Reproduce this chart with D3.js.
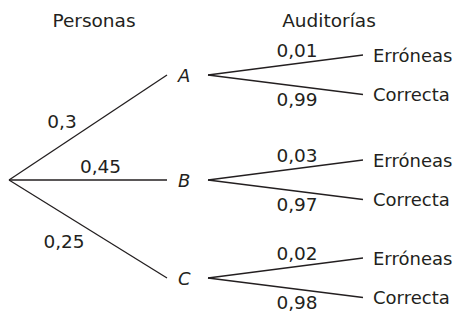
<!DOCTYPE html>
<html>
<head>
<meta charset="utf-8">
<script src="https://cdn.jsdelivr.net/npm/d3@7"></script>
<style>
  html, body { margin: 0; padding: 0; background: #fff; }
  svg { display: block; }
  text { font-family: "DejaVu Sans", sans-serif; fill: #231f20; }
</style>
</head>
<body>
<script>
// ---- data ----
const headers = ["Personas", "Auditorías"];
const groups = ["A", "B", "C"];
const groupProb = [0.3, 0.45, 0.25];
const outcomes = ["Erróneas", "Correcta"];
const errorProb = [0.01, 0.03, 0.02];
const correctProb = [0.99, 0.97, 0.98];

// ---- layout ----
const W = 455, H = 314;
const fmt = v => String(v).replace(".", ",");

const svg = d3.select("body").append("svg")
  .attr("width", W).attr("height", H);

// column positions (x) of the tree levels
const x = d3.scaleOrdinal()
  .domain(["root", "nodeEnd", "nodeLabel", "branchStart", "leafEnd", "leafLabel"])
  .range([9, 167, 178, 208, 363, 373]);
// row positions of the first-level nodes
const yNode = d3.scaleOrdinal().domain(groups).range([75, 180, 278]);
const rootY = 180;
// vertical offset of the leaves from their node
const yLeaf = d3.scaleOrdinal().domain(outcomes).range([-20, 19.5]);

const ink = "#231f20";

// headers
const headerX = [94, 329];
svg.selectAll("text.header").data(headers).join("text")
  .attr("class", "header")
  .attr("x", (d, i) => headerX[i]).attr("y", 27)
  .attr("text-anchor", "middle")
  .attr("font-size", 18.5)
  .text(d => d);

// first-level branches
svg.selectAll("line.l1").data(groups).join("line")
  .attr("class", "l1")
  .attr("x1", x("root")).attr("y1", rootY)
  .attr("x2", x("nodeEnd")).attr("y2", d => yNode(d))
  .attr("stroke", ink).attr("stroke-width", 1.3);

// node labels
svg.selectAll("text.node").data(groups).join("text")
  .attr("class", "node")
  .attr("x", x("nodeLabel")).attr("y", d => yNode(d) + 6.5)
  .attr("font-size", 18).attr("font-style", "italic")
  .text(d => d);

// first-level probabilities
const l1Lab = [{ cx: 62, dy: 128 }, { cx: 100.5, dy: 173 }, { cx: 64, dy: 248 }];
svg.selectAll("text.p1").data(groupProb).join("text")
  .attr("class", "p1")
  .attr("x", (d, i) => l1Lab[i].cx).attr("y", (d, i) => l1Lab[i].dy)
  .attr("text-anchor", "middle").attr("font-size", 18.5)
  .text(d => fmt(d));

// second-level branches
const leaves = [];
groups.forEach((g, gi) => {
  outcomes.forEach((o, oi) => {
    leaves.push({ g, o, p: oi === 0 ? errorProb[gi] : correctProb[gi] });
  });
});

svg.selectAll("line.l2").data(leaves).join("line")
  .attr("class", "l2")
  .attr("x1", x("branchStart")).attr("y1", d => yNode(d.g))
  .attr("x2", x("leafEnd")).attr("y2", d => yNode(d.g) + yLeaf(d.o))
  .attr("stroke", ink).attr("stroke-width", 1.3);

svg.selectAll("text.leaf").data(leaves).join("text")
  .attr("class", "leaf")
  .attr("x", x("leafLabel")).attr("y", d => yNode(d.g) + yLeaf(d.o) + 6.5)
  .attr("font-size", 18)
  .text(d => d.o);

const pOff = d3.scaleOrdinal().domain(outcomes).range([-18, 31]);
svg.selectAll("text.p2").data(leaves).join("text")
  .attr("class", "p2")
  .attr("x", 297).attr("y", d => yNode(d.g) + pOff(d.o))
  .attr("text-anchor", "middle").attr("font-size", 18.5)
  .text(d => fmt(d.p));
</script>
</body>
</html>
